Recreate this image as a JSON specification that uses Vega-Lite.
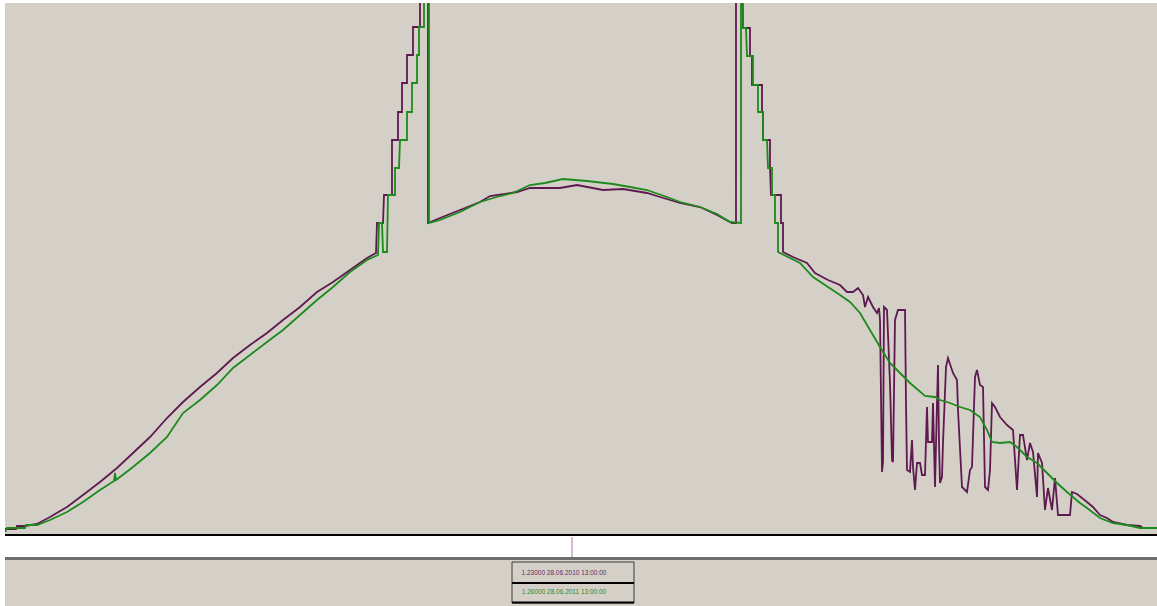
{
  "$schema": "https://vega.github.io/schema/vega-lite/v6.json",
  "width": 1157,
  "height": 606,
  "autosize": {"type": "fit", "contains": "padding"},
  "padding": {"left": 5, "top": 3, "right": 0, "bottom": 0},
  "background": "white",
  "config": {"view": {"fill": "#d4d0c8", "stroke": null}},
  "datasets": {
    "y2010": [
      {"x":0,"v":0.0216},{"x":11,"v":0.0216},{"x":12,"v":0.0324},{"x":20,"v":0.0324},{"x":32,"v":0.0396},{"x":45,"v":0.0648},{"x":62,"v":0.1008},{"x":78,"v":0.144},{"x":95,"v":0.1908},{"x":112,"v":0.2412},{"x":128,"v":0.2952},{"x":145,"v":0.3528},{"x":162,"v":0.4212},{"x":178,"v":0.4788},{"x":195,"v":0.5328},{"x":212,"v":0.5832},{"x":228,"v":0.6372},{"x":245,"v":0.684},{"x":262,"v":0.7272},{"x":278,"v":0.774},{"x":295,"v":0.8208},{"x":312,"v":0.8748},{"x":328,"v":0.9108},{"x":345,"v":0.954},{"x":362,"v":0.9972},{"x":371,"v":1.0152},
      {"x":372,"v":1.1232},{"x":378,"v":1.1232},{"x":379,"v":1.224},{"x":387,"v":1.224},{"x":387,"v":1.422},{"x":393,"v":1.422},{"x":393,"v":1.5228},{"x":397,"v":1.5228},{"x":397,"v":1.6272},{"x":402,"v":1.6272},{"x":402,"v":1.728},{"x":408,"v":1.728},{"x":408,"v":1.8288},{"x":415,"v":1.8288},{"x":415,"v":1.962},{"x":423,"v":1.962},{"x":423,"v":1.1232},
      {"x":435,"v":1.1412},{"x":455,"v":1.17},{"x":475,"v":1.1988},{"x":485,"v":1.2204},{"x":512,"v":1.2348},{"x":525,"v":1.2492},{"x":555,"v":1.2492},{"x":572,"v":1.26},{"x":598,"v":1.242},{"x":618,"v":1.2456},{"x":642,"v":1.2312},{"x":655,"v":1.2168},{"x":675,"v":1.1952},{"x":695,"v":1.1808},{"x":712,"v":1.152},{"x":727,"v":1.1232},{"x":731,"v":1.1232},
      {"x":731,"v":1.962},{"x":737,"v":1.962},{"x":738,"v":1.8252},{"x":745,"v":1.8252},{"x":745,"v":1.7244},{"x":747,"v":1.7244},{"x":747,"v":1.62},{"x":757,"v":1.62},{"x":757,"v":1.5228},{"x":758,"v":1.5228},{"x":758,"v":1.422},{"x":765,"v":1.422},{"x":765,"v":1.3212},{"x":766,"v":1.224},{"x":776,"v":1.224},{"x":776,"v":1.1232},{"x":778,"v":1.1232},{"x":778,"v":1.0188},
      {"x":788,"v":1.0008},{"x":802,"v":0.9792},{"x":810,"v":0.9432},{"x":823,"v":0.918},{"x":835,"v":0.9},{"x":842,"v":0.8748},{"x":848,"v":0.8748},{"x":853,"v":0.8892},{"x":858,"v":0.864},{"x":860,"v":0.8208},{"x":863,"v":0.8568},{"x":868,"v":0.8208},{"x":872,"v":0.7992},{"x":874,"v":0.8172},{"x":875,"v":0.774},{"x":877,"v":0.2268},{"x":878,"v":0.2628},{"x":879,"v":0.8208},{"x":882,"v":0.81},{"x":885,"v":0.5472},{"x":887,"v":0.27},{"x":888,"v":0.2628},{"x":890,"v":0.774},{"x":893,"v":0.81},{"x":900,"v":0.81},{"x":901,"v":0.4752},{"x":902,"v":0.234},{"x":905,"v":0.2268},{"x":907,"v":0.342},{"x":908,"v":0.2448},{"x":910,"v":0.162},{"x":912,"v":0.2592},{"x":915,"v":0.2592},{"x":917,"v":0.216},{"x":920,"v":0.216},{"x":922,"v":0.4608},{"x":923,"v":0.3348},{"x":927,"v":0.3348},{"x":928,"v":0.4752},{"x":930,"v":0.1728},{"x":932,"v":0.4752},{"x":933,"v":0.612},{"x":934,"v":0.3312},{"x":935,"v":0.1872},{"x":937,"v":0.2088},{"x":938,"v":0.3312},{"x":941,"v":0.6048},{"x":943,"v":0.6372},{"x":948,"v":0.5832},{"x":952,"v":0.558},{"x":953,"v":0.45},{"x":957,"v":0.1728},{"x":962,"v":0.1548},{"x":965,"v":0.234},{"x":967,"v":0.2448},{"x":970,"v":0.5688},{"x":972,"v":0.594},{"x":975,"v":0.54},{"x":978,"v":0.5328},{"x":980,"v":0.1728},{"x":983,"v":0.162},{"x":985,"v":0.234},{"x":987,"v":0.4752},{"x":990,"v":0.4608},{"x":995,"v":0.4248},{"x":1002,"v":0.396},{"x":1008,"v":0.378},{"x":1012,"v":0.162},{"x":1015,"v":0.36},{"x":1018,"v":0.36},{"x":1022,"v":0.27},{"x":1025,"v":0.3312},{"x":1028,"v":0.2988},{"x":1032,"v":0.1368},{"x":1033,"v":0.2952},{"x":1037,"v":0.2592},{"x":1040,"v":0.09},{"x":1043,"v":0.1692},{"x":1047,"v":0.09},{"x":1050,"v":0.2052},{"x":1053,"v":0.072},{"x":1065,"v":0.072},{"x":1067,"v":0.1548},{"x":1072,"v":0.1476},{"x":1082,"v":0.1188},{"x":1088,"v":0.1008},{"x":1095,"v":0.072},{"x":1102,"v":0.0612},{"x":1108,"v":0.0468},{"x":1122,"v":0.036},{"x":1135,"v":0.0324},{"x":1138,"v":0.0252},{"x":1152,"v":0.0252}
    ],
    "y2011": [
      {"x":0,"v":0.0108},{"x":2,"v":0.0252},{"x":20,"v":0.0252},{"x":21,"v":0.036},{"x":32,"v":0.036},{"x":45,"v":0.054},{"x":62,"v":0.0828},{"x":78,"v":0.1188},{"x":95,"v":0.162},{"x":109,"v":0.1944},{"x":110,"v":0.2232},{"x":111,"v":0.198},{"x":128,"v":0.2448},{"x":145,"v":0.2952},{"x":162,"v":0.3528},{"x":178,"v":0.4392},{"x":195,"v":0.486},{"x":212,"v":0.54},{"x":228,"v":0.6012},{"x":245,"v":0.648},{"x":262,"v":0.6948},{"x":278,"v":0.738},{"x":295,"v":0.792},{"x":312,"v":0.846},{"x":328,"v":0.8928},{"x":345,"v":0.9468},{"x":362,"v":0.99},{"x":373,"v":1.008},
      {"x":374,"v":1.1232},{"x":377,"v":1.1232},{"x":378,"v":1.0188},{"x":382,"v":1.0188},{"x":383,"v":1.224},{"x":390,"v":1.224},{"x":390,"v":1.3212},{"x":394,"v":1.3212},{"x":395,"v":1.422},{"x":402,"v":1.422},{"x":402,"v":1.5228},{"x":407,"v":1.5228},{"x":407,"v":1.6272},{"x":412,"v":1.6272},{"x":412,"v":1.728},{"x":414,"v":1.728},{"x":414,"v":1.8288},{"x":419,"v":1.8288},{"x":419,"v":1.962},{"x":424,"v":1.962},{"x":424,"v":1.1232},
      {"x":435,"v":1.134},{"x":455,"v":1.1628},{"x":475,"v":1.1988},{"x":495,"v":1.2204},{"x":508,"v":1.2312},{"x":525,"v":1.26},{"x":540,"v":1.2672},{"x":558,"v":1.2816},{"x":582,"v":1.2744},{"x":608,"v":1.2636},{"x":625,"v":1.2528},{"x":642,"v":1.242},{"x":662,"v":1.2168},{"x":675,"v":1.1988},{"x":695,"v":1.1808},{"x":712,"v":1.1556},{"x":725,"v":1.1268},{"x":736,"v":1.1232},
      {"x":736,"v":1.962},{"x":738,"v":1.962},{"x":738,"v":1.8252},{"x":741,"v":1.8252},{"x":742,"v":1.7244},{"x":748,"v":1.7244},{"x":748,"v":1.62},{"x":753,"v":1.62},{"x":753,"v":1.5228},{"x":758,"v":1.5228},{"x":758,"v":1.422},{"x":762,"v":1.422},{"x":763,"v":1.3212},{"x":767,"v":1.3212},{"x":767,"v":1.224},{"x":770,"v":1.224},{"x":770,"v":1.1232},{"x":773,"v":1.1232},{"x":773,"v":1.0188},
      {"x":795,"v":0.9792},{"x":808,"v":0.9288},{"x":820,"v":0.9},{"x":835,"v":0.864},{"x":845,"v":0.8388},{"x":855,"v":0.7992},{"x":865,"v":0.738},{"x":875,"v":0.6768},{"x":885,"v":0.6192},{"x":895,"v":0.5832},{"x":905,"v":0.5472},{"x":920,"v":0.5004},{"x":930,"v":0.4968},{"x":935,"v":0.486},{"x":945,"v":0.4752},{"x":955,"v":0.4608},{"x":965,"v":0.45},{"x":975,"v":0.4248},{"x":982,"v":0.378},{"x":987,"v":0.3348},{"x":995,"v":0.3312},{"x":1005,"v":0.3348},{"x":1012,"v":0.3168},{"x":1022,"v":0.2808},{"x":1032,"v":0.2592},{"x":1042,"v":0.2232},{"x":1052,"v":0.1872},{"x":1062,"v":0.1548},{"x":1075,"v":0.1152},{"x":1082,"v":0.0972},{"x":1095,"v":0.0612},{"x":1108,"v":0.0432},{"x":1122,"v":0.036},{"x":1135,"v":0.0252},{"x":1152,"v":0.0252}
    ]
  },
  "layer": [
    {
      "data": {"values": [{}]},
      "mark": {"type": "rect", "color": "white"},
      "encoding": {
        "x": {"datum": 0, "type": "quantitative", "scale": {"domain": [0, 1152], "nice": false, "zero": false}, "axis": null},
        "x2": {"datum": 1152},
        "y": {"datum": -0.0036, "type": "quantitative", "scale": {"domain": [-0.2556, 1.9152], "nice": false, "zero": false}, "axis": null},
        "y2": {"datum": -0.0792}
      }
    },
    {
      "data": {"values": [{}]},
      "mark": {"type": "rect", "color": "#6e6e6e"},
      "encoding": {
        "x": {"datum": 0, "type": "quantitative"},
        "x2": {"datum": 1152},
        "y": {"datum": -0.0792, "type": "quantitative"},
        "y2": {"datum": -0.0900}
      }
    },
    {
      "data": {"values": [{}]},
      "mark": {"type": "rect", "color": "black"},
      "encoding": {
        "x": {"datum": 0, "type": "quantitative"},
        "x2": {"datum": 1152},
        "y": {"datum": 0.0036, "type": "quantitative"},
        "y2": {"datum": -0.0036}
      }
    },
    {
      "data": {"values": [{}]},
      "mark": {"type": "rule", "color": "#c4a4c4", "strokeWidth": 1.5},
      "encoding": {
        "x": {"datum": 567, "type": "quantitative"},
        "y": {"datum": -0.0072, "type": "quantitative"},
        "y2": {"datum": -0.0792}
      }
    },
    {
      "data": {"values": [{}]},
      "mark": {"type": "rect", "fill": "#d4d0c8", "stroke": "#3a3a3a", "strokeWidth": 1},
      "encoding": {
        "x": {"datum": 507, "type": "quantitative"},
        "x2": {"datum": 629},
        "y": {"datum": -0.0972, "type": "quantitative"},
        "y2": {"datum": -0.2448}
      }
    },
    {
      "data": {"values": [{}]},
      "mark": {"type": "rule", "color": "black", "strokeWidth": 2},
      "encoding": {
        "x": {"datum": 507, "type": "quantitative"},
        "x2": {"datum": 629},
        "y": {"datum": -0.1728, "type": "quantitative"}
      }
    },
    {
      "data": {"values": [{}]},
      "mark": {"type": "rule", "color": "black", "strokeWidth": 2},
      "encoding": {
        "x": {"datum": 507, "type": "quantitative"},
        "x2": {"datum": 629},
        "y": {"datum": -0.2430, "type": "quantitative"}
      }
    },
    {
      "data": {"values": [{"label": "1.23000 28.06.2010 13:00:00"}]},
      "mark": {"type": "text", "color": "#6a2a5a", "font": "Liberation Sans", "fontSize": 6.5, "align": "center", "baseline": "middle"},
      "encoding": {
        "x": {"datum": 559, "type": "quantitative"},
        "y": {"datum": -0.1368, "type": "quantitative"},
        "text": {"field": "label"}
      }
    },
    {
      "data": {"values": [{"label": "1.26000 28.06.2011 13:00:00"}]},
      "mark": {"type": "text", "color": "#2a8a2a", "font": "Liberation Sans", "fontSize": 6.5, "align": "center", "baseline": "middle"},
      "encoding": {
        "x": {"datum": 559, "type": "quantitative"},
        "y": {"datum": -0.2052, "type": "quantitative"},
        "text": {"field": "label"}
      }
    },
    {
      "data": {"name": "y2010"},
      "mark": {"type": "line", "color": "#5e1a50", "strokeWidth": 1.8, "clip": true},
      "encoding": {
        "x": {"field": "x", "type": "quantitative"},
        "y": {"field": "v", "type": "quantitative"},
        "order": {"value": null}
      }
    },
    {
      "data": {"name": "y2011"},
      "mark": {"type": "line", "color": "#1c8a1c", "strokeWidth": 1.8, "clip": true},
      "encoding": {
        "x": {"field": "x", "type": "quantitative"},
        "y": {"field": "v", "type": "quantitative"},
        "order": {"value": null}
      }
    }
  ]
}
